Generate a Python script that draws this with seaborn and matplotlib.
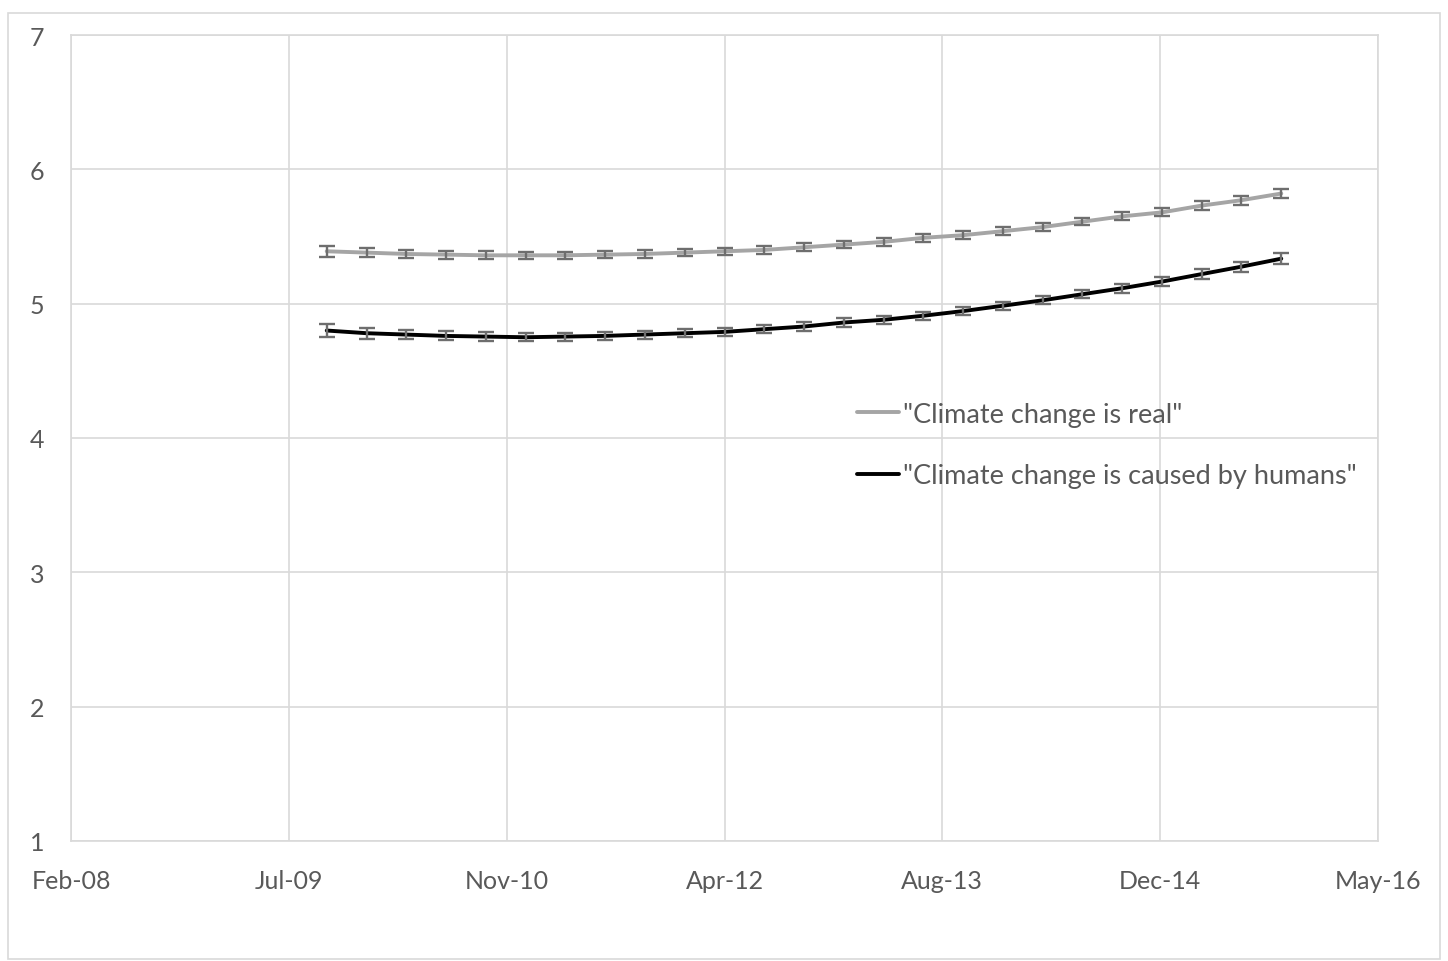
import pandas as pd
import numpy as np
import matplotlib
matplotlib.use("Agg")
import matplotlib.pyplot as plt
import matplotlib.dates as mdates
from matplotlib.patches import Rectangle
import seaborn as sns

# quarterly survey waves, Oct 2009 - Oct 2015
waves = pd.date_range("2009-10-01", periods=25, freq="QS")

real_mean = [5.39, 5.38, 5.37, 5.365, 5.36, 5.36, 5.36, 5.365, 5.37, 5.38, 5.39, 5.40, 5.42,
             5.44, 5.46, 5.49, 5.51, 5.54, 5.57, 5.61, 5.65, 5.68, 5.73, 5.77, 5.82]
real_err = [0.042, 0.036, 0.033, 0.03, 0.029, 0.028, 0.028, 0.028, 0.028, 0.028, 0.028, 0.028, 0.028,
            0.028, 0.028, 0.028, 0.028, 0.028, 0.028, 0.028, 0.029, 0.03, 0.031, 0.033, 0.037]

human_mean = [4.80, 4.78, 4.77, 4.76, 4.755, 4.75, 4.755, 4.76, 4.77, 4.78, 4.79, 4.81, 4.83,
              4.86, 4.88, 4.91, 4.945, 4.985, 5.025, 5.07, 5.115, 5.165, 5.22, 5.275, 5.335]
human_err = [0.045, 0.04, 0.036, 0.033, 0.031, 0.03, 0.03, 0.03, 0.03, 0.03, 0.03, 0.03, 0.03,
             0.03, 0.03, 0.03, 0.03, 0.03, 0.03, 0.031, 0.032, 0.033, 0.035, 0.038, 0.042]

labels = ['"Climate change is real"', '"Climate change is caused by humans"']

df = pd.DataFrame({
    "date": list(waves) * 2,
    "value": real_mean + human_mean,
    "series": [labels[0]] * 25 + [labels[1]] * 25,
})

sns.set_theme(style="white")
plt.rcParams['font.family'] = ['Lato', 'DejaVu Sans']
txt = "#595959"

fig = plt.figure(figsize=(14.48, 9.62), dpi=100)
ax = fig.add_axes([71 / 1448, 1 - 842 / 962, 1307 / 1448, 806 / 962])

# outer chart border
fig.patches.append(Rectangle((8 / 1448, 0.002), 1432 / 1448, 1 - 16 / 962, transform=fig.transFigure,
                             fill=False, edgecolor="#D9D9D9", linewidth=1.2))

sns.lineplot(data=df, x="date", y="value", hue="series", palette=["#A5A5A5", "black"],
             linewidth=2.8, ax=ax, zorder=3)

for m, e in [(real_mean, real_err), (human_mean, human_err)]:
    ax.errorbar(waves, m, yerr=e, fmt="none", ecolor="#6E6E6E", elinewidth=1.7,
                capsize=5.5, capthick=1.7, zorder=4)

base = pd.Timestamp("1899-12-30")
ticks = [base + pd.Timedelta(days=d) for d in range(39500, 43000, 500)]
ax.set_xlim(ticks[0], ticks[-1])
ax.set_xticks(ticks)
ax.xaxis.set_major_formatter(mdates.DateFormatter("%b-%y"))
ax.set_ylim(1, 7)
ax.set_yticks(range(1, 8))

ax.grid(True, color="#D9D9D9", linewidth=1.2)
for s in ax.spines.values():
    s.set_color("#D9D9D9")
    s.set_linewidth(1.2)
ax.tick_params(axis="both", length=0, labelsize=18, labelcolor=txt)
ax.tick_params(axis="y", pad=19)
ax.tick_params(axis="x", pad=20)
ax.set_xlabel("")
ax.set_ylabel("")

ax.legend(loc="upper left", bbox_to_anchor=(0.583, 0.575), frameon=False, fontsize=19.5,
          labelcolor=txt, handlelength=1.55, handletextpad=0.15, labelspacing=1.35)

fig.savefig("out.png", dpi=100)
